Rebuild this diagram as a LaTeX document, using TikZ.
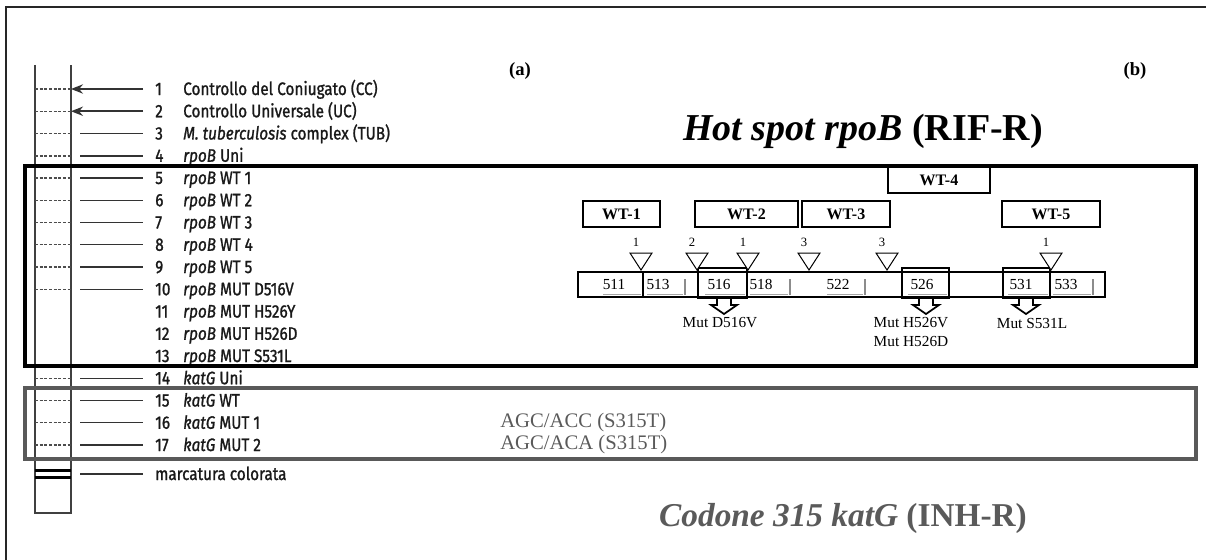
\documentclass[tikz,border=0pt]{standalone}
\usepackage{fontspec}
\setmainfont{Liberation Serif}
\newfontfamily\labfont[FakeStretch=0.85,FakeBold=1.2]{Fira Sans}
\usetikzlibrary{arrows.meta}
\definecolor{tgray}{HTML}{5A5A5A}
\begin{document}
\begin{tikzpicture}[x=0.75pt,y=-0.75pt,
  lab/.style={font=\labfont\fontsize{13.5}{15}\selectfont,anchor=base west,inner sep=0,text=black!90},
  stripline/.style={line width=0.9pt,black!75},
  dots/.style={line width=0.8pt,dash pattern=on 2.2pt off 1.3pt,black!70},
  probe/.style={line width=1pt,black!80},
  frame/.style={line width=1.5pt,black!85},
  hotbox/.style={line width=2.3pt,black},
  katbox/.style={line width=2.3pt,black!65},
  wtbox/.style={draw,line width=0.9pt,font=\bfseries\fontsize{12}{13}\selectfont,inner sep=0,minimum height=19.5pt},
  codnum/.style={font=\fontsize{11.5}{13}\selectfont,inner sep=0},
  trinum/.style={font=\fontsize{9.5}{10}\selectfont,inner sep=0},
  tri/.style={draw,line width=0.75pt,fill=white},
  codbox/.style={line width=2.2pt},
  uline/.style={line width=1.2pt,black!35},
  tick/.style={line width=1.5pt,black!45},
  mutarrow/.style={draw,line width=1.3pt,fill=white},
  mutlab/.style={font=\fontsize{11.5}{13}\selectfont,inner sep=0},
  seqlab/.style={font=\fontsize{15.5}{18}\selectfont,text=tgray,anchor=west,inner sep=0},
  bigtitle/.style={font=\fontsize{28.5}{30}\selectfont,inner sep=0},
  panel/.style={font=\bfseries\fontsize{14}{16}\selectfont,inner sep=0}
]
\useasboundingbox (0,0) rectangle (1206,560);
% outer frame (top and left edges)
\draw[frame] (6,560) -- (6,7) -- (1206,7);
% strip
\draw[stripline] (35,65) -- (35,513) -- (71,513) -- (71,65);
% rows
\foreach \i in {1,...,17} {
  \pgfmathsetmacro\yy{89+(\i-1)*22.25}
  \node[lab] (n\i) at (155,\yy+6) {\i};
  \coordinate (sl\i) at (35,\yy);
  \coordinate (sr\i) at (71,\yy);
  \coordinate (pa\i) at (80,\yy);
  \coordinate (pb\i) at (143,\yy);
  \coordinate (tx\i) at (183,\yy+6);
}
\foreach \i/\t in {1/Controllo del Coniugato (CC),
  2/Controllo Universale (UC),
  3/\textit{M. tuberculosis} complex (TUB),
  4/\textit{rpoB} Uni,
  5/\textit{rpoB} WT 1,
  6/\textit{rpoB} WT 2,
  7/\textit{rpoB} WT 3,
  8/\textit{rpoB} WT 4,
  9/\textit{rpoB} WT 5,
  10/\textit{rpoB} MUT D516V,
  11/\textit{rpoB} MUT H526Y,
  12/\textit{rpoB} MUT H526D,
  13/\textit{rpoB} MUT S531L,
  14/\textit{katG} Uni,
  15/\textit{katG} WT,
  16/\textit{katG} MUT 1,
  17/\textit{katG} MUT 2} {
  \node[lab] (t\i) at (tx\i) {\t};
}
% dotted marks and probe lines
\foreach \i in {1,2,3,5,6,7,8,9,10,14,15,16,17} {
  \draw[dots] (sl\i) -- (sr\i);
}
\draw[dots,line width=1.5pt] (sl4) -- (sr4);
\foreach \i in {3,5,6,7,8,9,10,14,15,16,17} {
  \draw[probe] (pa\i) -- (pb\i);
}
\draw[probe,line width=1.8pt] (pa4) -- (pb4);
\draw[probe,line width=1.2pt,-{Stealth[length=9pt,width=7pt]}] (pb1) -- (sr1);
\draw[probe,line width=1.2pt,-{Stealth[length=9pt,width=7pt]}] (pb2) -- (sr2);
% marcatura colorata
\coordinate (ml) at (35,474);
\coordinate (mr) at (71,474);
\draw[line width=2.3pt] ([yshift=2.6pt]ml) -- ([yshift=2.6pt]mr);
\draw[line width=2.3pt] ([yshift=-2.6pt]ml) -- ([yshift=-2.6pt]mr);
\coordinate (mpa) at (80,474);
\coordinate (mpb) at (143,474);
\draw[probe] (mpa) -- (mpb);
\node[lab] (tm) at (155,480) {marcatura colorata};
% group boxes
\draw[hotbox] (25,166) rectangle (1196,366);
\draw[katbox] (25,388) rectangle (1196,459);
% titles
\node[panel] (pA) at (520,71) {(a)};
\node[panel] (pB) at (1135,71) {(b)};
\node[bigtitle] (hs) at (863,131) {\textbf{\textit{Hot spot rpoB}} \textbf{(RIF-R)}};
\node[bigtitle,text=tgray,font=\fontsize{25}{30}\selectfont] (cod) at (843,518) {\textbf{\textit{Codone 315 katG}} \textbf{(INH-R)}};
% katG sequences
\node[seqlab] (s16) at (500,422.75) {AGC/ACC (S315T)};
\node[seqlab] (s17) at (500,445) {AGC/ACA (S315T)};
% WT boxes
\node[wtbox,minimum width=57.75pt] (wt1) at (621.5,214) {WT-1};
\node[wtbox,minimum width=77.25pt] (wt2) at (746.5,214) {WT-2};
\node[wtbox,minimum width=66pt] (wt3) at (846,214) {WT-3};
\node[wtbox,minimum width=76.5pt] (wt4) at (939,180) {WT-4};
\node[wtbox,minimum width=73.5pt] (wt5) at (1051,214) {WT-5};
% codon bar
\draw[line width=0.8pt] (578,272) rectangle (1105,297);
\draw[line width=0.8pt] (643,272) -- (643,297);
\foreach \x in {685,790,865,1093} { \draw[tick] (\x,279) -- (\x,295); }
\foreach \a/\b in {603/641,647/683,705/745,750/788,827/863,908/947,1008/1048,1053/1091} {
  \draw[uline] (\a,294.5) -- (\b,294.5);
}
\foreach \x/\n in {614/511,658/513,719/516,761/518,838/522,922/526,1021/531,1066/533} {
  \node[codnum] (c\n) at (\x,284.5) {\n};
}
\draw[codbox] (698,268) rectangle (747,298);
\draw[codbox] (902,268) rectangle (949,298);
\draw[codbox] (1003,268) rectangle (1050,298);
% triangles
\foreach \x/\k/\m in {641/1/a,697/2/b,748/1/c,809/3/d,887/3/e,1051/1/f} {
  \draw[tri] (\x-11,253) -- (\x+11,253) -- (\x,270) -- cycle;
  \node[trinum] (tn\m) at (\x-5,242) {\k};
}
% mutation arrows
\foreach \x in {724,926,1026} {
  \draw[mutarrow] (\x-7,299) -- (\x-7,305) -- (\x-13,305) -- (\x,314) -- (\x+13,305) -- (\x+7,305) -- (\x+7,299);
}
\node[mutlab] (m1) at (720,323) {Mut D516V};
\node[mutlab] (m2) at (911,323) {Mut H526V};
\node[mutlab] (m3) at (911,341) {Mut H526D};
\node[mutlab] (m4) at (1032,323) {Mut S531L};
\end{tikzpicture}
\end{document}
